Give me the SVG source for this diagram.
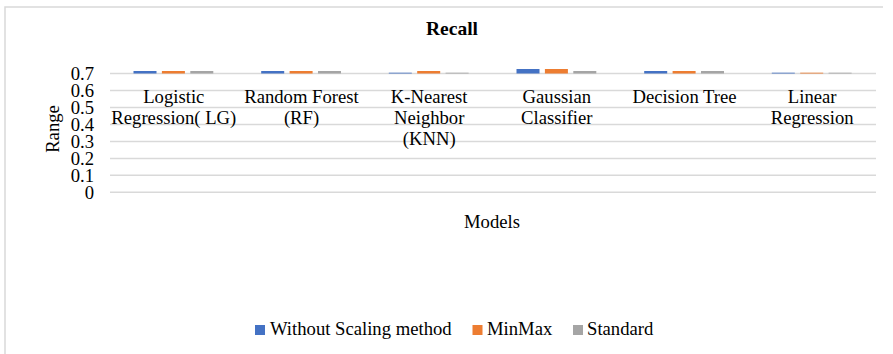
<svg xmlns="http://www.w3.org/2000/svg" width="893" height="354" viewBox="0 0 893 354">
<style>
text{font-family:"Liberation Serif","Times New Roman",serif;font-size:18.67px;fill:#000}
.grid{stroke:#d9d9d9;stroke-width:1.5;fill:none}
.tick{text-anchor:end}
.cat{text-anchor:middle}
.b{fill:#4472c4}.o{fill:#ed7d31}.g{fill:#a5a5a5}
</style>
<rect width="893" height="354" fill="#fff"/>
<path d="M5,354 V7 H883" class="grid" stroke-width="1.5"/>
<g id="title"><text x="452" y="35" text-anchor="middle" font-weight="bold" style="font-size:19.5px">Recall</text></g>
<g id="gridlines">
<path class="grid" d="M110,192.3H876M110,175.3H876M110,158.4H876M110,141.4H876M110,124.5H876M110,107.5H876M110,90.5H876M110,73.5H876"/>
</g>
<g id="y-axis">
<text class="tick" x="94" y="199">0</text>
<text class="tick" x="94" y="182">0.1</text>
<text class="tick" x="94" y="165">0.2</text>
<text class="tick" x="94" y="148">0.3</text>
<text class="tick" x="94" y="131">0.4</text>
<text class="tick" x="94" y="114">0.5</text>
<text class="tick" x="94" y="97">0.6</text>
<text class="tick" x="94" y="80">0.7</text>
<text transform="translate(59,129) rotate(-90)" text-anchor="middle">Range</text>
</g>
<g id="bars">
<rect class="b" x="133.5" y="71" width="23" height="2.5"/><rect class="o" x="161.9" y="71" width="23" height="2.5"/><rect class="g" x="190.3" y="71" width="23" height="2.5"/>
<rect class="b" x="261.2" y="71" width="23" height="2.5"/><rect class="o" x="289.6" y="71" width="23" height="2.5"/><rect class="g" x="318" y="71" width="23" height="2.5"/>
<rect class="b" x="388.8" y="72.7" width="23" height="0.8"/><rect class="o" x="417.2" y="71" width="23" height="2.5"/><rect class="g" x="445.6" y="72.7" width="23" height="0.8"/>
<rect class="b" x="516.5" y="69" width="23" height="4.5"/><rect class="o" x="544.9" y="69" width="23" height="4.5"/><rect class="g" x="573.3" y="71" width="23" height="2.5"/>
<rect class="b" x="644.2" y="71" width="23" height="2.5"/><rect class="o" x="672.6" y="71" width="23" height="2.5"/><rect class="g" x="701" y="71" width="23" height="2.5"/>
<rect class="b" x="771.8" y="72.7" width="23" height="0.8"/><rect class="o" x="800.2" y="72.7" width="23" height="0.8"/><rect class="g" x="828.6" y="72.7" width="23" height="0.8"/>
</g>
<g id="cat-LG"><text class="cat" x="173.8" y="102.5">Logistic</text><text class="cat" x="173.8" y="123.8">Regression( LG)</text></g>
<g id="cat-RF"><text class="cat" x="301.5" y="102.5">Random Forest</text><text class="cat" x="301.5" y="123.8">(RF)</text></g>
<g id="cat-KNN"><text class="cat" x="429.2" y="102.5">K-Nearest</text><text class="cat" x="429.2" y="123.8">Neighbor</text><text class="cat" x="429.2" y="145.1">(KNN)</text></g>
<g id="cat-GC"><text class="cat" x="556.8" y="102.5">Gaussian</text><text class="cat" x="556.8" y="123.8">Classifier</text></g>
<g id="cat-DT"><text class="cat" x="684.5" y="102.5">Decision Tree</text></g>
<g id="cat-LR"><text class="cat" x="812.2" y="102.5">Linear</text><text class="cat" x="812.2" y="123.8">Regression</text></g>
<g id="x-title"><text class="cat" x="492" y="228">Models</text></g>
<g id="legend">
<rect class="b" x="255" y="325" width="10" height="10"/><text x="270" y="335">Without Scaling method</text>
<rect class="o" x="472.5" y="325" width="10" height="10"/><text x="487" y="335">MinMax</text>
<rect class="g" x="573" y="325" width="10" height="10"/><text x="587" y="335">Standard</text>
</g>
</svg>
